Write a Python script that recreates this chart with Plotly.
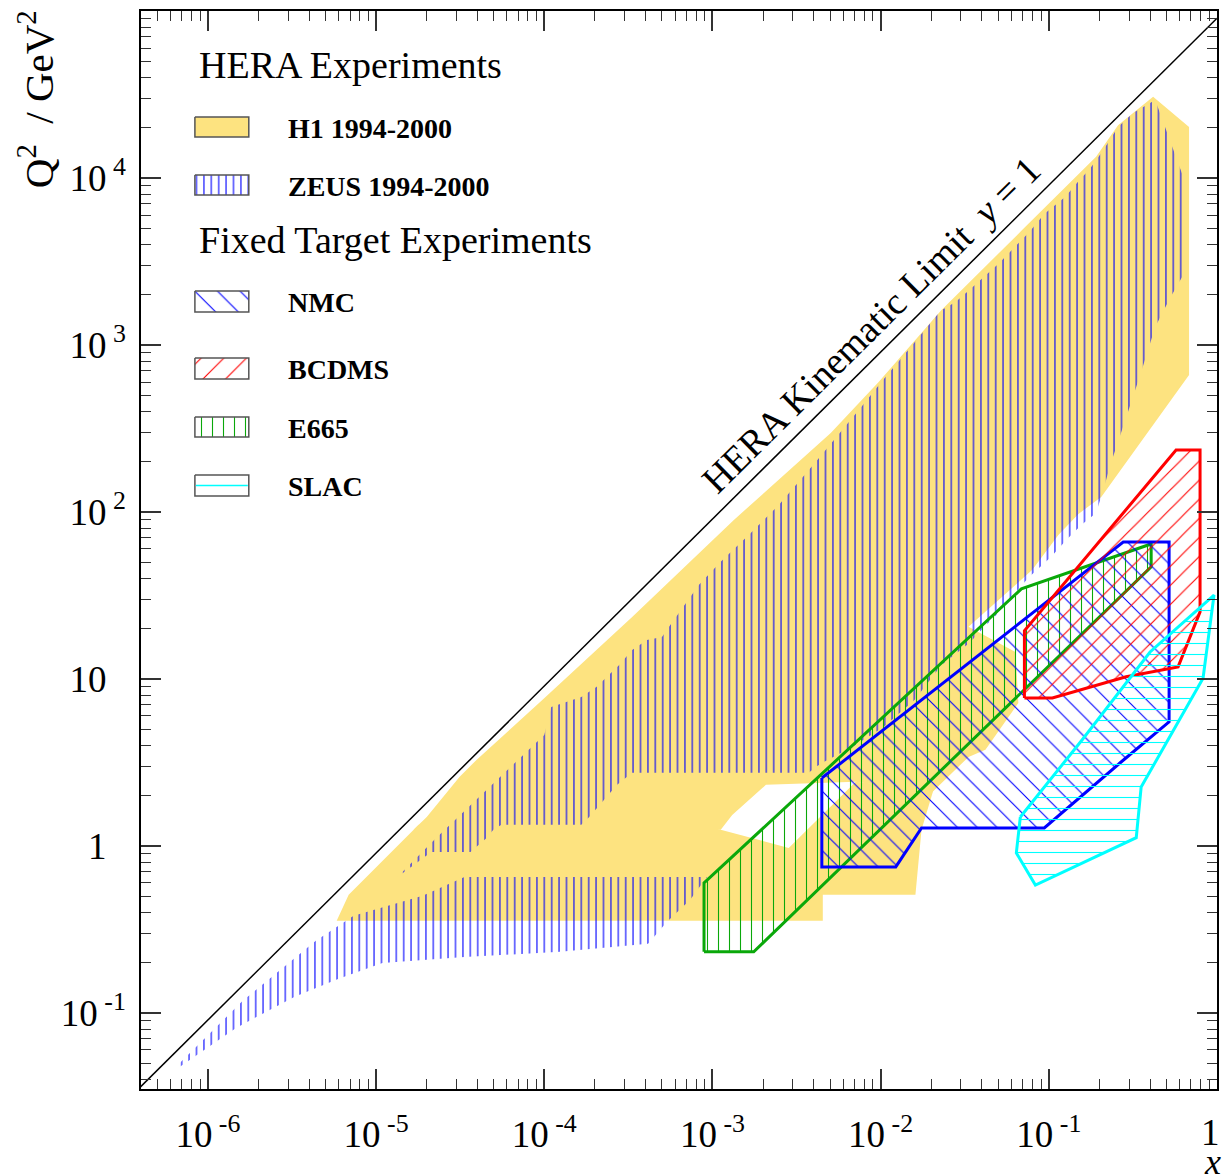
import math
import plotly.graph_objects as go

# ---------------- data: kinematic regions in (x, Q^2 / GeV^2) ----------------
kin_x = [3.86e-7, 1.0]
kin_q2 = [0.035, 90600.0]

h1_high_x = [2.00e-5, 3.13e-5, 3.95e-5, 9.73e-5, 3.33e-4, 1.34e-3, 5.05e-3, 9.73e-3, 0.0230, 0.0696,
             0.191, 0.258, 0.417, 0.682, 0.682, 0.205, 0.150, 0.114, 0.0798, 0.0333,
             0.0633, 0.0659, 0.0420, 0.0333, 0.0201, 7.11e-3, 2.08e-3, 1.31e-3, 1.12e-3, 1.67e-5]
h1_high_q2 = [1.49, 2.59, 3.27, 7.48, 23.5, 89.5, 297, 600, 1620, 4890,
              13400, 20700, 30600, 20200, 661, 123, 97.3, 72.8, 45.0, 20.5,
              14.5, 7.18, 3.76, 3.41, 2.08, 2.42, 2.32, 1.53, 1.25, 1.25]

h1_low_x = [5.83e-6, 6.87e-6, 1.79e-5, 8.32e-4, 1.12e-3, 2.84e-3, 7.11e-3, 0.0206, 0.0175, 0.0161,
            4.53e-3, 4.53e-3]
h1_low_q2 = [0.356, 0.509, 1.34, 1.34, 1.25, 0.973, 2.42, 2.16, 1.25, 0.509,
             0.509, 0.356]

zeus_high_x = [1.34e-5, 2.22e-5, 1.00e-4, 1.10e-4, 1.66e-4, 2.04e-4, 2.79e-4, 3.33e-4, 4.08e-4, 5.01e-4,
               5.52e-4, 8.32e-4, 1.12e-3, 1.69e-3, 2.48e-3, 4.11e-3, 7.61e-3, 0.0101, 0.0151, 0.0227,
               0.0279, 0.0337, 0.0508, 0.0766, 0.0940, 0.125, 0.154, 0.174, 0.211, 0.258,
               0.317, 0.429, 0.646, 0.646, 0.526, 0.429, 0.354, 0.288, 0.232, 0.211,
               0.191, 0.156, 0.127, 0.103, 0.0756, 0.0616, 0.0508, 0.0414, 0.0337, 0.0230,
               0.0159, 0.0104, 6.82e-3, 4.59e-3, 4.11e-3, 3.74e-3, 3.33e-4, 2.71e-4, 2.21e-4, 1.85e-4,
               1.66e-4, 5.56e-5, 4.98e-5, 4.47e-5, 3.64e-5, 2.13e-5]
zeus_high_q2 = [0.652, 1.09, 4.62, 6.79, 7.80, 8.95, 12.1, 14.9, 17.1, 17.8,
                20.5, 36.6, 50.3, 74.8, 110, 199, 420, 600, 973, 1600,
                1807, 2133, 3100, 4750, 6080, 7690, 9860, 11200, 14700, 20200,
                24500, 29300, 9460, 2740, 1910, 1282, 689, 366, 191, 136,
                98.6, 83.6, 68.0, 53.8, 40.3, 31.8, 25.2, 20.5, 16.4, 12.1,
                7.48, 5.16, 3.92, 3.18, 2.97, 2.74, 2.74, 2.32, 1.83, 1.49,
                1.34, 1.34, 1.25, 1.10, 0.920, 0.920]

zeus_low_x = [6.55e-7, 1.61e-6, 4.38e-6, 7.35e-6, 1.89e-5, 3.35e-5, 9.27e-4, 7.35e-4, 5.37e-4, 4.14e-4,
              1.24e-4, 3.35e-5, 1.09e-5, 5.99e-6, 3.28e-6, 1.47e-6, 6.55e-7]
zeus_low_q2 = [0.0482, 0.118, 0.270, 0.381, 0.502, 0.652, 0.652, 0.475, 0.351, 0.259,
               0.232, 0.216, 0.199, 0.160, 0.125, 0.0813, 0.0462]

nmc_x = [4.47e-3, 4.47e-3, 0.0123, 0.0175, 0.0940, 0.269, 0.519, 0.519, 0.277]
nmc_q2 = [2.55, 0.748, 0.748, 1.28, 1.28, 3.18, 5.53, 66.1, 66.1]

bcdms_x = [0.0716, 0.0716, 0.571, 0.793, 0.793, 0.587, 0.288, 0.105]
bcdms_q2 = [7.69, 19.4, 235, 235, 25.2, 11.8, 10.3, 7.69]

e665_x = [8.91e-4, 1.76e-3, 0.406, 0.406, 0.0687, 8.91e-4]
e665_q2 = [0.232, 0.232, 46.9, 64.3, 34.6, 0.600]

slac_x = [0.0677, 0.158, 0.400, 0.960, 0.826, 0.354, 0.331, 0.0832, 0.0641]
slac_q2 = [1.49, 4.32, 14.5, 31.8, 10.1, 2.25, 1.12, 0.583, 0.908]

# x = 1 sits on the right frame edge: its label is written separately so it stays inside the page
x_tickvals = [1e-6, 1e-5, 1e-4, 1e-3, 1e-2, 1e-1]
x_ticktext = ["10<sup>\u00a0-6</sup>", "10<sup>\u00a0-5</sup>", "10<sup>\u00a0-4</sup>", "10<sup>\u00a0-3</sup>",
              "10<sup>\u00a0-2</sup>", "10<sup>\u00a0-1</sup>"]
x_edge_label = "1"
PAD = "<sup>\u00a0\u2007</sup>"   # blank exponent slot so labels line up like the exponent ones
y_tickvals = [0.1, 1, 10, 100, 1000, 10000]
y_ticktext = ["10<sup>\u00a0-1</sup>", "1" + PAD, "10" + PAD, "10<sup>\u00a02</sup>", "10<sup>\u00a03</sup>",
              "10<sup>\u00a04</sup>"]

X_RANGE = (4e-7, 1.0)
Y_RANGE = (0.035, 1e5)

# ---------------- styles ----------------
SERIF = "Liberation Serif"
H1_COL = "#fde380"
GREEN = "#0aa80a"
TRANSP = "rgba(0,0,0,0)"

FIG_W, FIG_H = 1224, 1175
PX_L, PX_R, PX_T, PX_B = 141, 1219, 11, 1089   # plot frame in pixels


def closed(a):
    return list(a) + [a[0]]


def minor_vals(lo_exp, hi_exp):
    return [k * 10.0 ** e for e in range(lo_exp, hi_exp) for k in range(2, 10)]


def pattern(shape, size, color, bg=TRANSP):
    return dict(shape=shape, size=size, solidity=1.1 / size, fgcolor=color, fgopacity=1,
                bgcolor=bg, fillmode="overlay")


def px_to_paper(px, py):
    return (px - PX_L) / (PX_R - PX_L), (PX_B - py) / (PX_B - PX_T)


fig = go.Figure()

# H1 (solid yellow)
for xs, qs in [(h1_low_x, h1_low_q2), (h1_high_x, h1_high_q2)]:
    fig.add_trace(go.Scatter(x=xs, y=qs, fill="toself", fillcolor=H1_COL, mode="none",
                             hoverinfo="skip"))

# ZEUS (vertical blue hatching)
for xs, qs in [(zeus_low_x, zeus_low_q2), (zeus_high_x, zeus_high_q2)]:
    fig.add_trace(go.Scatter(x=xs, y=qs, fill="toself", fillcolor=TRANSP, mode="none",
                             fillpattern=pattern("|", 7.4, "#0000ff"), hoverinfo="skip"))


def fixed_target(xs, qs, color, shape, size):
    fig.add_trace(go.Scatter(x=closed(xs), y=closed(qs), fill="toself", fillcolor=TRANSP,
                             mode="lines", line=dict(color=color, width=3),
                             fillpattern=pattern(shape, size, color), hoverinfo="skip"))


fixed_target(e665_x, e665_q2, GREEN, "|", 11)
fixed_target(nmc_x, nmc_q2, "#0000ff", "\\", 14)
fixed_target(bcdms_x, bcdms_q2, "#ff0000", "/", 13.5)
fixed_target(slac_x, slac_q2, "#00ffff", "-", 11)

# kinematic limit
fig.add_trace(go.Scatter(x=kin_x, y=kin_q2, mode="lines", line=dict(color="black", width=1.5),
                         hoverinfo="skip"))

# ---------------- legend (drawn in an overlay pixel frame) ----------------
BOX_X0, BOX_X1 = 195, 249
legend_items = [
    ("H1 1994-2000", 117, 137, dict(fill=H1_COL)),
    ("ZEUS 1994-2000", 175, 195, dict(pat=("|", 7.4, "#0000ff"))),
    ("NMC", 291, 312, dict(pat=("\\", 16, "#0000ff"))),
    ("BCDMS", 358, 379, dict(pat=("/", 16, "#ff0000"))),
    ("E665", 417, 437, dict(pat=("|", 11, GREEN))),
    ("SLAC", 475, 496, dict(line=("#00ffff",))),
]
for name, y0, y1, sty in legend_items:
    bx = [BOX_X0, BOX_X1, BOX_X1, BOX_X0, BOX_X0]
    by = [y0, y0, y1, y1, y0]
    kw = dict(fill="toself", fillcolor=sty.get("fill", "white"), mode="lines",
              line=dict(color="#555555", width=1.5))
    if "pat" in sty:
        shp, sz, col = sty["pat"]
        kw["fillpattern"] = pattern(shp, sz, col, bg="white")
    fig.add_trace(go.Scatter(x=bx, y=by, xaxis="x2", yaxis="y2", hoverinfo="skip", **kw))
    if "line" in sty:
        ym = (y0 + y1) / 2
        fig.add_trace(go.Scatter(x=[BOX_X0 + 1, BOX_X1 - 1], y=[ym, ym], xaxis="x2", yaxis="y2",
                                 mode="lines", line=dict(color=sty["line"][0], width=1.5),
                                 hoverinfo="skip"))

annotations = []
annotations.append(dict(xref="x2", yref="y2", x=197, y=65, text="HERA Experiments", showarrow=False,
                        xanchor="left", yanchor="middle", font=dict(family=SERIF, size=38, color="black")))
annotations.append(dict(xref="x2", yref="y2", x=197, y=240, text="Fixed Target Experiments", showarrow=False,
                        xanchor="left", yanchor="middle", font=dict(family=SERIF, size=38, color="black")))
for name, y0, y1, sty in legend_items:
    annotations.append(dict(xref="x2", yref="y2", x=286, y=(y0 + y1) / 2 + 1, text="<b>%s</b>" % name,
                            showarrow=False, xanchor="left", yanchor="middle",
                            font=dict(family=SERIF, size=28, color="black")))

# kinematic limit label
annotations.append(dict(xref="x", yref="y", x=math.log10(8.73e-3), y=math.log10(1318),
                        text="HERA Kinematic Limit\u00a0\u00a0<i>y</i> = 1", showarrow=False,
                        textangle=-44.75, xanchor="center", yanchor="middle",
                        font=dict(family=SERIF, size=38, color="black")))
# axis titles
tx, ty = px_to_paper(36, 99)
annotations.append(dict(xref="paper", yref="paper", x=tx, y=ty,
                        text="Q<sup>2</sup>\u00a0\u00a0/\u00a0GeV<sup>2</sup>", showarrow=False, textangle=-90,
                        xanchor="center", yanchor="middle", font=dict(family=SERIF, size=41, color="black")))
tx, ty = px_to_paper(1214, 1162)
annotations.append(dict(xref="paper", yref="paper", x=tx, y=ty,
                        text="<i>x</i>", showarrow=False, xanchor="center", yanchor="middle",
                        font=dict(family=SERIF, size=36, color="black")))
# label of the x = 1 tick at the right frame edge
tx, ty = px_to_paper(1223, 1132)
annotations.append(dict(xref="paper", yref="paper", x=tx, y=ty, text=x_edge_label, showarrow=False,
                        xanchor="right", yanchor="middle", borderpad=0,
                        font=dict(family=SERIF, size=37, color="black")))

axis_common = dict(type="log", showgrid=False, zeroline=False, showline=True, linecolor="black",
                   linewidth=1.5, ticks="inside", ticklen=20, tickwidth=1.5, tickcolor="#333333",
                   mirror="allticks", tickfont=dict(family=SERIF, size=37, color="black"))

fig.update_layout(
    width=FIG_W, height=FIG_H,
    margin=dict(l=PX_L, r=FIG_W - PX_R, t=PX_T, b=FIG_H - PX_B),
    paper_bgcolor="white", plot_bgcolor="white",
    showlegend=False,
    xaxis=dict(range=[math.log10(X_RANGE[0]), math.log10(X_RANGE[1])], tickvals=x_tickvals,
               ticktext=x_ticktext, ticklabelstandoff=12,
               minor=dict(ticks="inside", ticklen=10, tickwidth=1.2, tickcolor="#333333",
                          tickvals=minor_vals(-7, 0), showgrid=False),
               **axis_common),
    yaxis=dict(range=[math.log10(Y_RANGE[0]), math.log10(Y_RANGE[1])], tickvals=y_tickvals,
               ticktext=y_ticktext, ticklabelstandoff=6,
               minor=dict(ticks="inside", ticklen=10, tickwidth=1.2, tickcolor="#333333",
                          tickvals=minor_vals(-2, 5), showgrid=False),
               **axis_common),
    xaxis2=dict(overlaying="x", anchor="y2", range=[PX_L, PX_R], visible=False, fixedrange=True),
    yaxis2=dict(overlaying="y", anchor="x2", range=[PX_B, PX_T], visible=False, fixedrange=True),
    annotations=annotations,
)

# remove the browser's default 8px page margin so the figure fills the window exactly
fig.write_html("out.html", config={"displayModeBar": False},
               post_script="document.body.style.margin='0px';document.body.style.overflow='hidden';")
